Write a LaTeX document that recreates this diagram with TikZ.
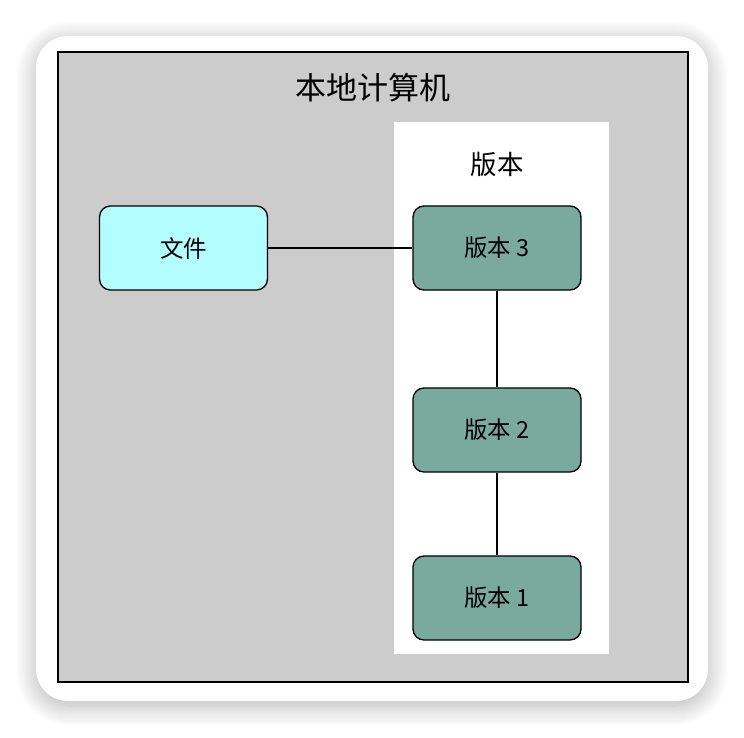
\documentclass[tikz,border=0pt]{standalone}
\usepackage{fontspec}
\setmainfont{Noto Sans CJK SC}
\usetikzlibrary{positioning}
\usetikzlibrary{shadows.blur}

\definecolor{boxgray}{HTML}{CCCCCC}
\definecolor{filecyan}{HTML}{B3FDFF}
\definecolor{vergreen}{HTML}{7AA99E}

\begin{document}
\begin{tikzpicture}[x=1pt,y=-1pt,
    item/.style={draw,line width=1.3pt,rounded corners=11pt,
        minimum width=168pt,minimum height=84pt,font=\fontsize{23.5}{27}\selectfont},
    ver/.style={item,fill=vergreen}]
        \useasboundingbox (0,0) rectangle (744,738);

        % card and frame
        \fill[white,rounded corners=32pt,blur shadow={shadow xshift=0pt,shadow yshift=-5pt,
            shadow blur radius=20pt,shadow blur steps=20,shadow opacity=30}] (36,36) rectangle (708,701);
        \draw[fill=boxgray,line width=1.6pt] (58,52) rectangle (688,682);
        \node (title) at (373,88) {\fontsize{31}{34}\selectfont 本地计算机};

        % version column
        \fill[white] (394,122) rectangle (609,654);
        \node (head) at (497,164) {\fontsize{26.5}{30}\selectfont 版本};

        \node[item,fill=filecyan] (file) at (183.5,248) {文件};
        \node[ver] (v3) at (497,248) {版本 3};
        \node[ver] (v2) at (497,430) {版本 2};
        \node[ver] (v1) at (497,598) {版本 1};

        \draw[line width=1.3pt] (file)--(v3);
        \draw[line width=1.3pt] (v3)--(v2);
        \draw[line width=1.3pt] (v2)--(v1);
    \end{tikzpicture}
\end{document}
